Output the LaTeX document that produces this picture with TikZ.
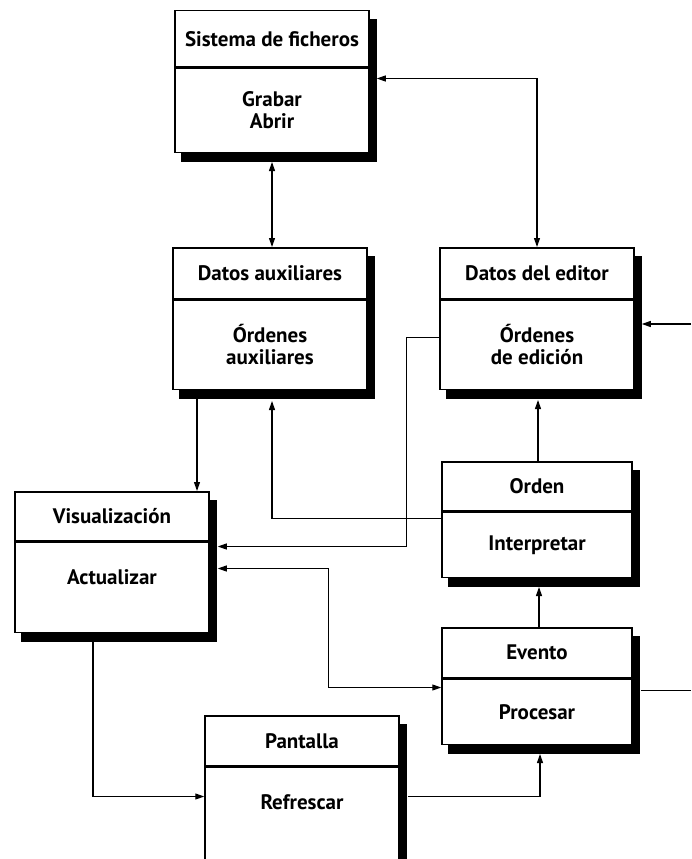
\documentclass[tikz,border=0pt]{standalone}
\usepackage{fontspec}
\setmainfont{PT Sans}
\usepackage{tikz}
\usetikzlibrary{arrows.meta,positioning,backgrounds}

\begin{document}
\begin{tikzpicture}[
  x=1pt, y=-1pt,
  >={Triangle[length=9pt,width=6pt]},
  every node/.style={font=\bfseries\fontsize{21pt}{22pt}\selectfont},
  head/.style={rectangle, draw, fill=white, line width=1.5pt, inner sep=0pt,
      minimum width=194pt, anchor=north, align=center},
  body/.style={head, below=0pt of #1},
  link/.style={line width=1.1pt}
]
\useasboundingbox (0,0) rectangle (691,859);

\node[head, minimum height=56pt] (fich) at (272,10) {Sistema de ficheros};
\node[body=fich, minimum height=84pt] (fichOps) {Grabar\\Abrir};
\node[head, minimum height=51pt] (aux) at (270,247) {Datos auxiliares};
\node[body=aux, minimum height=89pt] (auxOps) {Órdenes\\auxiliares};
\node[head, minimum height=51pt] (editor) at (537,247) {Datos del editor};
\node[body=editor, minimum height=89pt] (editorOps) {Órdenes\\de edición};
\node[head, minimum height=49pt] (visual) at (112,491) {Visualización};
\node[body=visual, minimum height=90pt, text depth=20pt] (visualOps) {Actualizar};
\node[head, minimum height=49pt, minimum width=190pt] (orden) at (537,461) {Orden};
\node[body=orden, minimum height=65pt, minimum width=190pt] (ordenOps) {Interpretar};
\node[head, minimum height=50pt, minimum width=190pt] (evento) at (537,627) {Evento};
\node[body=evento, minimum height=65pt, minimum width=190pt] (eventoOps) {Procesar};
\node[head, minimum height=50pt] (pantalla) at (302,715) {Pantalla};
\node[body=pantalla, minimum height=92pt, text depth=22pt] (pantallaOps) {Refrescar};

\begin{scope}[on background layer]
\foreach \boxname in {fich,aux,editor,visual,orden,evento,pantalla}
  \fill ([shift={(7pt,-9pt)}]\boxname.north west) rectangle ([shift={(7pt,-9pt)}]\boxname Ops.south east);
\end{scope}

\coordinate (edgeIn) at (691,324);
\coordinate (edgeOut) at (691,689);

\draw[link,<->] ([yshift=-9pt]fichOps.south) -- (fichOps.south |- aux.north);
\draw[link,<->] ([xshift=7pt,yshift=-11pt]fichOps.north east) -| (editor.north);
\draw[link,->] (edgeIn) -- ([xshift=7pt]edgeIn -| editorOps.east);
\draw[link,->] ([xshift=-73pt]auxOps.south) -- ([xshift=-73pt]auxOps.south |- visual.north);
\draw[link,->] ([yshift=-7pt]ordenOps.north west) -| ([xshift=2pt,yshift=-11pt]auxOps.south);
\draw[link,->] ([yshift=-38pt]editorOps.north west) -- ++(-33,0)
  |- ([xshift=8pt,yshift=-5pt]visualOps.north east);
\draw[link,<->] ([xshift=8pt,yshift=-27pt]visualOps.north east)
  -| ([xshift=-113pt,yshift=-9pt]eventoOps.north west) -- ([yshift=-9pt]eventoOps.north west);
\draw[link,->] ([xshift=-19pt]visualOps.south) |- ([yshift=-30pt]pantallaOps.north west);
\draw[link,->] ([xshift=8pt,yshift=-30pt]pantallaOps.north east) -| ([xshift=3pt,yshift=-9pt]eventoOps.south);
\draw[link,->] ([xshift=2pt]evento.north) -- ([xshift=2pt,yshift=-9pt]ordenOps.south);
\draw[link,->] ([xshift=1pt]orden.north) -- ([xshift=1pt,yshift=-10pt]editorOps.south);
\draw[link] ([xshift=8pt,yshift=-12pt]eventoOps.north east) -- ([yshift=-12pt]eventoOps.north east -| edgeOut);
\end{tikzpicture}
\end{document}
